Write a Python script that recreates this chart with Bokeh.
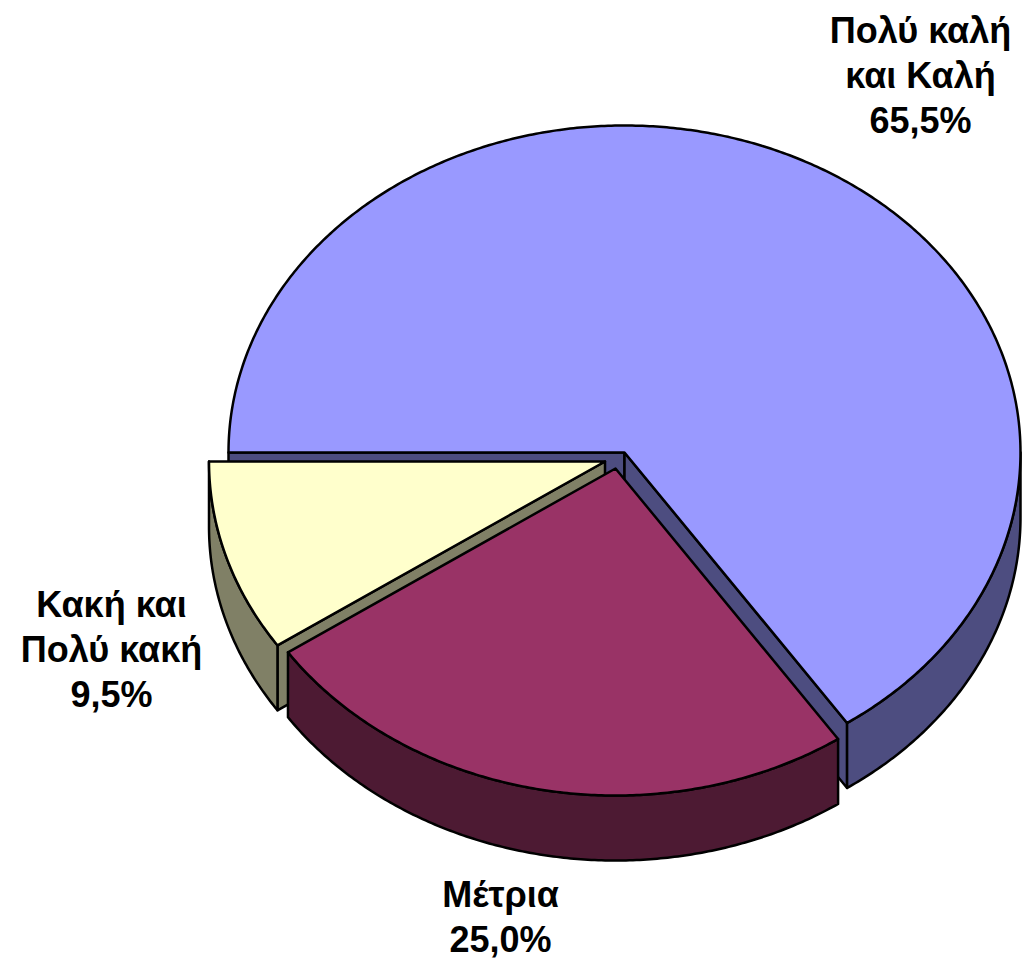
import math
from bokeh.plotting import figure
from bokeh.models import Range1d
from bokeh.embed import file_html
from bokeh.resources import INLINE
from bokeh.core.properties import value

# ---- data ----
categories = ["Πολύ καλή και Καλή", "Μέτρια", "Κακή και Πολύ κακή"]
values = [65.5, 25.0, 9.5]
label_lines = [
    ["Πολύ καλή", "και Καλή", "65,5%"],
    ["Μέτρια", "25,0%"],
    ["Κακή και", "Πολύ κακή", "9,5%"],
]

# ---- style / layout ----
top_colors = ["#9999FF", "#993366", "#FFFFCC"]
side_colors = ["#4D4D80", "#4D1A33", "#808066"]
explode = [(0, 0), (-9, 16), (-19.5, 9)]
label_pos = [(920, 30), (500, 894), (111, 604)]
line_gap = 45

CX, CY, RX, RY, DEPTH = 624, 452, 396, 327, 65
START = 270  # bearing (deg clockwise from 12 o'clock)

W, H = 1022, 965
p = figure(width=W, height=H,
           x_range=Range1d(0, W), y_range=Range1d(H, 0),
           x_axis_type=None, y_axis_type=None,
           output_backend="svg", toolbar_location=None, min_border=0)
p.grid.visible = False
p.outline_line_color = None
p.background_fill_color = "white"


def pt(b, ox, oy, dz=0.0):
    r = math.radians(b)
    return CX + ox + RX * math.sin(r), CY + oy - RY * math.cos(r) + dz


def arc(b0, b1, ox, oy, dz=0.0):
    n = max(2, int(abs(b1 - b0) * 2)) + 1
    xs, ys = [], []
    for i in range(n):
        b = b0 + (b1 - b0) * i / (n - 1)
        x, y = pt(b, ox, oy, dz)
        xs.append(x)
        ys.append(y)
    return xs, ys


LS = dict(line_color="black", line_width=2.5, line_join="round")

total = sum(values)
slices = []
cum = 0.0
for i, v in enumerate(values):
    a0 = START + cum / total * 360.0
    a1 = a0 + v / total * 360.0
    cum += v
    mid = (a0 + a1) / 2
    slices.append((i, a0, a1, -math.cos(math.radians(mid))))

# back to front
for i, a0, a1, _ in sorted(slices, key=lambda s: s[3]):
    ox, oy = explode[i]
    vx, vy = CX + ox, CY + oy
    # radial walls
    for edge, normal in ((a0, a0 - 90), (a1, a1 + 90)):
        if -math.cos(math.radians(normal)) > 0:
            ex, ey = pt(edge, ox, oy)
            p.patch([vx, ex, ex, vx], [vy, ey, ey + DEPTH, vy + DEPTH],
                    fill_color=side_colors[i], **LS)
    # outer wall (front-facing part)
    for k in range(-1, 3):
        lo = max(a0, 90 + 360 * k)
        hi = min(a1, 270 + 360 * k)
        if hi - lo > 0.01:
            tx, ty = arc(lo, hi, ox, oy)
            bx, by = arc(hi, lo, ox, oy, DEPTH)
            p.patch(tx + bx, ty + by, fill_color=side_colors[i], **LS)
    # top face
    tx, ty = arc(a0, a1, ox, oy)
    p.patch([vx] + tx, [vy] + ty, fill_color=top_colors[i], **LS)

# labels
for i, lines in enumerate(label_lines):
    lx, ly = label_pos[i]
    p.text(x=[lx] * len(lines), y=[ly + j * line_gap for j in range(len(lines))],
           text=lines, text_font=value("Liberation Sans"), text_font_style="bold",
           text_font_size="36px", text_align="center", text_baseline="alphabetic",
           text_color="black")

open("out.html", "w").write(file_html(p, INLINE))
